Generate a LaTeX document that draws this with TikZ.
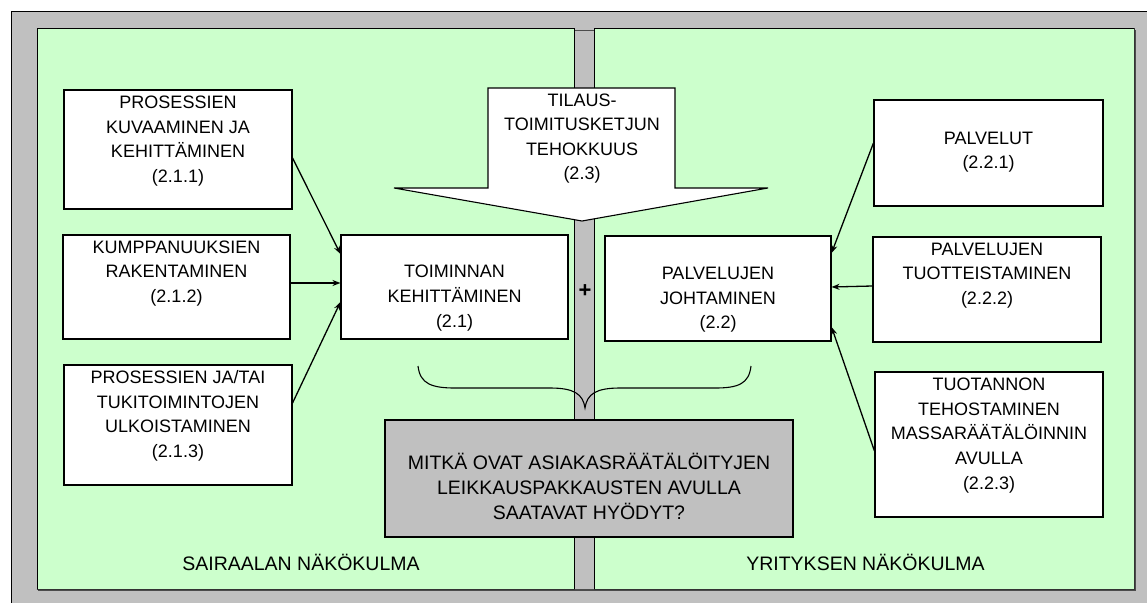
\documentclass[tikz,border=0pt]{standalone}
\usepackage{fontspec}
\setmainfont{Liberation Sans}
\usetikzlibrary{arrows.meta}
\definecolor{panelgrey}{HTML}{C0C0C0}
\definecolor{panelgreen}{HTML}{CCFFCC}
\tikzset{
  panel/.style={draw=black, fill=panelgreen, line width=1pt},
  whitebox/.style={draw=black, fill=white, line width=1.1pt, inner sep=0pt},
  txt/.style={align=center, inner sep=0pt, font=\fontsize{18}{24.6}\selectfont},
  bigtxt/.style={align=center, inner sep=0pt, font=\fontsize{19.5}{25.3}\selectfont},
  conn/.style={line width=1.3pt, -{Stealth[length=8pt,width=6pt]}},
}
\begin{document}
\begin{tikzpicture}[x=1pt,y=-1pt]
\useasboundingbox (0,0) rectangle (1147,602);
% outer frame
\draw[fill=panelgrey, line width=1pt] (11,12) rectangle (1152,607);
% panels
\draw[line width=1.6pt, black!70] (38.5,30.5) rectangle (1135,590);
\node[panel, minimum width=537pt, minimum height=560pt, inner sep=0pt] (leftpanel) at (305.5,309) {};
\node[panel, minimum width=540pt, minimum height=560pt, inner sep=0pt] (rightpanel) at (864,309) {};
\draw[line width=1.6pt, black!80] (rightpanel.north east) -- (rightpanel.south east) -- (rightpanel.south west);
\draw[line width=1.6pt, black!80] (leftpanel.south west) -- (leftpanel.south east);

% left boxes
\node[whitebox, minimum width=228pt, minimum height=119pt] (b211) at (178,149.5) {};
\node[txt] (t211) at (178,141) {PROSESSIEN\\KUVAAMINEN JA\\KEHITTÄMINEN\\(2.1.1)};
\node[whitebox, minimum width=227pt, minimum height=104pt] (b212) at (176.5,287) {};
\node[txt] (t212) at (176.5,273.5) {KUMPPANUUKSIEN\\RAKENTAMINEN\\(2.1.2)};
\node[whitebox, minimum width=228pt, minimum height=120pt] (b213) at (178,425) {};
\node[txt] (t213) at (178,416) {PROSESSIEN JA/TAI\\TUKITOIMINTOJEN\\ULKOISTAMINEN\\(2.1.3)};
\node[whitebox, minimum width=227pt, minimum height=104pt] (b21) at (454.5,287) {};
\node[txt] (t21) at (454.5,298) {TOIMINNAN\\KEHITTÄMINEN\\(2.1)};

% right boxes
\node[whitebox, minimum width=226pt, minimum height=105pt] (b22) at (718,288.5) {};
\node[txt] (t22) at (718,300) {PALVELUJEN\\JOHTAMINEN\\(2.2)};
\node[whitebox, minimum width=229pt, minimum height=106pt] (b221) at (988.5,153) {};
\node[txt] (t221) at (988.5,152) {PALVELUT\\(2.2.1)};
\node[whitebox, minimum width=228pt, minimum height=105pt] (b222) at (987,289.5) {};
\node[txt] (t222) at (987,275.5) {PALVELUJEN\\TUOTTEISTAMINEN\\(2.2.2)};
\node[whitebox, minimum width=228pt, minimum height=145pt] (b223) at (989,444.5) {};
\node[txt] (t223) at (989,435.5) {TUOTANNON\\TEHOSTAMINEN\\MASSARÄÄTÄLÖINNIN\\AVULLA\\(2.2.3)};

% big arrow 2.3
\coordinate (atip) at (582,221);
\draw[fill=white, line width=1.1pt] (488,88) -- (675,88) -- (675,188) -- (768,188) -- (atip) -- (394,188) -- (488,188) -- cycle;
\node[txt] (t23) at (582,138.5) {TILAUS-\\TOIMITUSKETJUN\\TEHOKKUUS\\(2.3)};

% plus
\node[font=\fontsize{22}{24}\selectfont\bfseries, inner sep=0pt] (plus) at (585,291) {+};

% brace
\coordinate (brtip) at (585,408);
\draw[line width=1.1pt] (418,366) .. controls (420,384) and (432,388) .. (455,388)
  -- (550,388) .. controls (574,388) and (583,394) .. (brtip)
  .. controls (587,394) and (596,388) .. (620,388)
  -- (715,388) .. controls (738,388) and (749,384) .. (751,366);

% question box
\node[draw=black, fill=panelgrey, line width=1.1pt, minimum width=408pt, minimum height=117pt, inner sep=0pt] (q) at (589,478.5) {};
\node[bigtxt] (tq) at (589,486.5) {MITKÄ OVAT ASIAKASRÄÄTÄLÖITYJEN\\LEIKKAUSPAKKAUSTEN AVULLA\\SAATAVAT HYÖDYT?};

% panel labels
\node[bigtxt] (lsai) at (301,562) {SAIRAALAN NÄKÖKULMA};
\node[bigtxt] (lyri) at (865.5,562) {YRITYKSEN NÄKÖKULMA};

% connectors
\draw[conn] ([yshift=-8.5pt]b211.east) -- ([yshift=33pt]b21.west);
\draw[conn] ([yshift=4pt]b212.east) -- ([yshift=4pt]b21.west);
\draw[conn] ([yshift=22pt]b213.east) -- ([yshift=-15pt]b21.west);
\draw[conn] ([yshift=10pt]b221.west) -- ([yshift=35.5pt]b22.east);
\draw[conn] ([yshift=3.5pt]b222.west) -- ([yshift=1.5pt]b22.east);
\draw[conn] ([yshift=-6.5pt]b223.west) -- ([yshift=-38.5pt]b22.east);
\end{tikzpicture}
\end{document}
